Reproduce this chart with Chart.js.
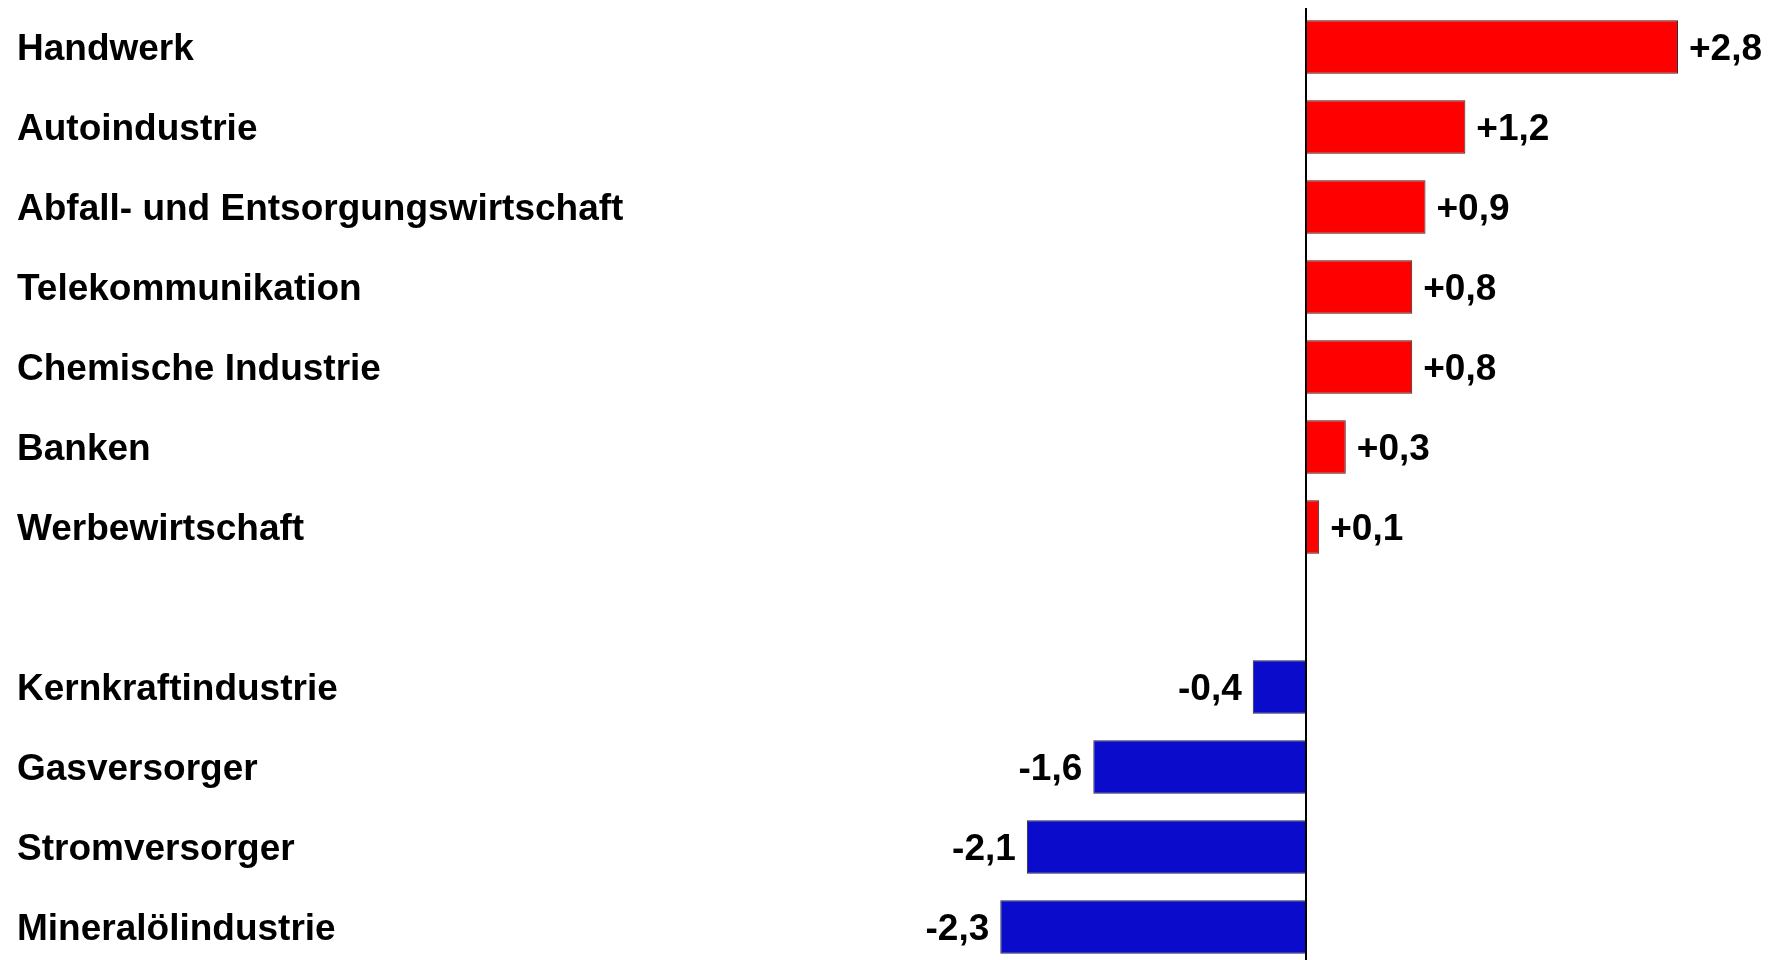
<!DOCTYPE html>
<html>
<head>
<meta charset="utf-8">
<script src="https://cdn.jsdelivr.net/npm/chart.js@4"></script>
<style>
  html, body { margin: 0; padding: 0; background: #fff; overflow: hidden; }
  #wrap { width: 1771px; height: 960px; overflow: hidden; position: relative; }
  canvas { display: block; }
</style>
</head>
<body>
<div id="wrap"><canvas id="c" width="1771" height="968" style="width:1771px;height:968px"></canvas></div>
<script>
const categories = [
  "Handwerk",
  "Autoindustrie",
  "Abfall- und Entsorgungswirtschaft",
  "Telekommunikation",
  "Chemische Industrie",
  "Banken",
  "Werbewirtschaft",
  "",
  "Kernkraftindustrie",
  "Gasversorger",
  "Stromversorger",
  "Mineralölindustrie"
];
const values = [2.8, 1.2, 0.9, 0.8, 0.8, 0.3, 0.1, null, -0.4, -1.6, -2.1, -2.3];
const positiveColor = "#ff0000";
const negativeColor = "#0b0bcb";

const FONT = "'Liberation Sans', Arial, Helvetica, sans-serif";

function fmt(v) {
  const s = Math.abs(v).toFixed(1).replace(".", ",");
  return (v > 0 ? "+" : "-") + s;
}

const valueLabels = {
  id: "valueLabels",
  afterDatasetsDraw(chart) {
    const ctx = chart.ctx;
    const meta = chart.getDatasetMeta(0);
    ctx.save();
    ctx.font = "bold 37px " + FONT;
    ctx.fillStyle = "#000";
    ctx.textBaseline = "middle";
    meta.data.forEach((bar, i) => {
      const v = values[i];
      if (v === null || v === undefined) return;
      if (v >= 0) {
        ctx.textAlign = "left";
        ctx.fillText(fmt(v), bar.x + 11, bar.y + 3);
      } else {
        ctx.textAlign = "right";
        ctx.fillText(fmt(v), bar.x - 11, bar.y + 3);
      }
    });
    ctx.restore();
  }
};

const zeroLine = {
  id: "zeroLine",
  afterDatasetsDraw(chart) {
    const ctx = chart.ctx;
    const x = Math.round(chart.scales.x.getPixelForValue(0));
    ctx.save();
    ctx.strokeStyle = "#000";
    ctx.lineWidth = 2;
    ctx.beginPath();
    ctx.moveTo(x, chart.chartArea.top + 1);
    ctx.lineTo(x, chart.chartArea.bottom);
    ctx.stroke();
    ctx.restore();
  }
};

new Chart(document.getElementById("c"), {
  type: "bar",
  data: {
    labels: categories,
    datasets: [{
      data: values,
      backgroundColor: values.map(v => v >= 0 ? positiveColor : negativeColor),
      borderColor: "#2a2a2a",
      borderWidth: 1,
      categoryPercentage: 0.67,
      barPercentage: 1.0
    }]
  },
  options: {
    indexAxis: "y",
    responsive: false,
    animation: false,
    maintainAspectRatio: false,
    layout: { padding: { top: 7, bottom: 1, left: 17, right: 0 } },
    plugins: { legend: { display: false }, tooltip: { enabled: false } },
    scales: {
      x: {
        min: -5,
        max: 3.5,
        display: false
      },
      y: {
        grid: { display: false },
        border: { display: false },
        ticks: {
          crossAlign: "far",
          padding: 0,
          labelOffset: 3,
          color: "#000",
          font: { family: FONT, size: 37, weight: "bold" }
        },
        afterFit(scale) {
          scale.width = 624.5;
          scale.paddingTop = 0;
          scale.paddingBottom = 0;
        }
      }
    }
  },
  plugins: [valueLabels, zeroLine]
});
</script>
</body>
</html>
